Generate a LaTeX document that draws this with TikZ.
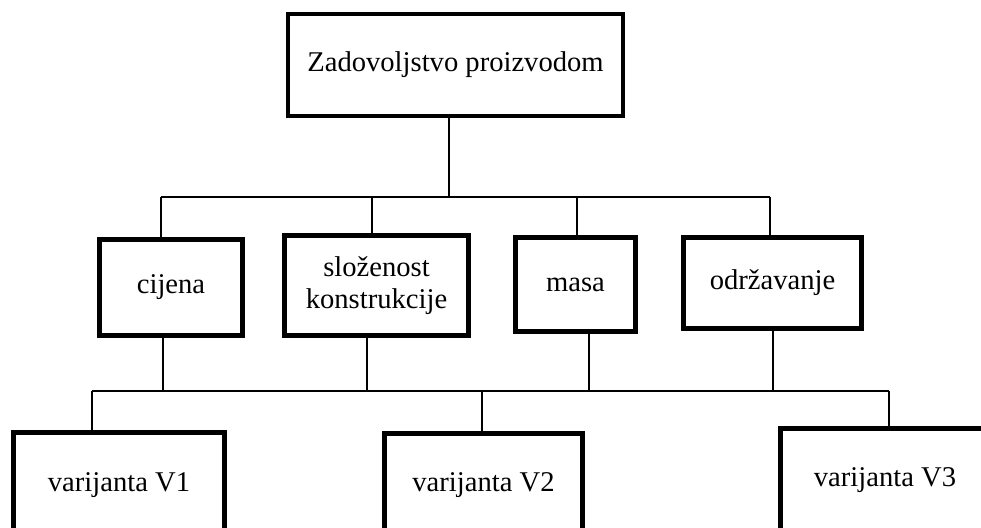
\documentclass[tikz,border=0pt]{standalone}
\usepackage{fontspec}
\setmainfont{Liberation Serif}
\begin{document}
\begin{tikzpicture}[x=0.5pt, y=-0.5pt,
    kutija/.style={draw, line width=2.2pt, inner sep=0pt, align=center,
        font=\fontsize{14.3}{16}\selectfont},
    veza/.style={line width=1.1pt}]
    % Frame of the picture
    \clip (0,0) rectangle (981,528);
    \fill[white] (0,0) rectangle (981,528);

    % Goal
    \node[kutija, minimum width=167.5pt, minimum height=51pt] (cilj) at (455.5,65) {Zadovoljstvo proizvodom};

    % Criteria
    \node[kutija, minimum width=71.5pt, minimum height=48pt] (cijena) at (171,287.5) {cijena};
    \node[kutija, minimum width=92pt, minimum height=50pt] (slozenost) at (376.5,285.5) {složenost\\konstrukcije};
    \node[kutija, minimum width=60pt, minimum height=47pt] (masa) at (575.5,284.5) {masa};
    \node[kutija, minimum width=89pt, minimum height=45.5pt] (odrzavanje) at (772.5,283) {održavanje};

    % Variants (cut off at the lower edge)
    \node[kutija, minimum width=105.5pt, minimum height=52.5pt] (v1) at (119,485) {varijanta V1};
    \node[kutija, minimum width=99pt, minimum height=51.5pt] (v2) at (483.5,485) {varijanta V2};
    \node[kutija, minimum width=104.5pt, minimum height=51.5pt] (v3) at (885,480) {varijanta V3};

    % Upper bus
    \coordinate (a0) at (449,197);
    \coordinate (a1) at (161,197);
    \coordinate (a2) at (372,197);
    \coordinate (a3) at (577,197);
    \coordinate (a4) at (770,197);
    \draw[veza] (cilj.south -| a0) -- (a0);
    \draw[veza] (a1) -- (a4);
    \draw[veza] (a1) -- (a1 |- cijena.north);
    \draw[veza] (a2) -- (a2 |- slozenost.north);
    \draw[veza] (a3) -- (a3 |- masa.north);
    \draw[veza] (a4) -- (a4 |- odrzavanje.north);

    % Lower bus
    \coordinate (b1) at (163,391);
    \coordinate (b2) at (367,391);
    \coordinate (b3) at (589,391);
    \coordinate (b4) at (773,391);
    \coordinate (c1) at (92,391);
    \coordinate (c2) at (482,391);
    \coordinate (c3) at (889,391);
    \draw[veza] (c1) -- (c3);
    \draw[veza] (b1) -- (b1 |- cijena.south);
    \draw[veza] (b2) -- (b2 |- slozenost.south);
    \draw[veza] (b3) -- (b3 |- masa.south);
    \draw[veza] (b4) -- (b4 |- odrzavanje.south);
    \draw[veza] (c1) -- (c1 |- v1.north);
    \draw[veza] (c2) -- (c2 |- v2.north);
    \draw[veza] (c3) -- (c3 |- v3.north);
\end{tikzpicture}
\end{document}
